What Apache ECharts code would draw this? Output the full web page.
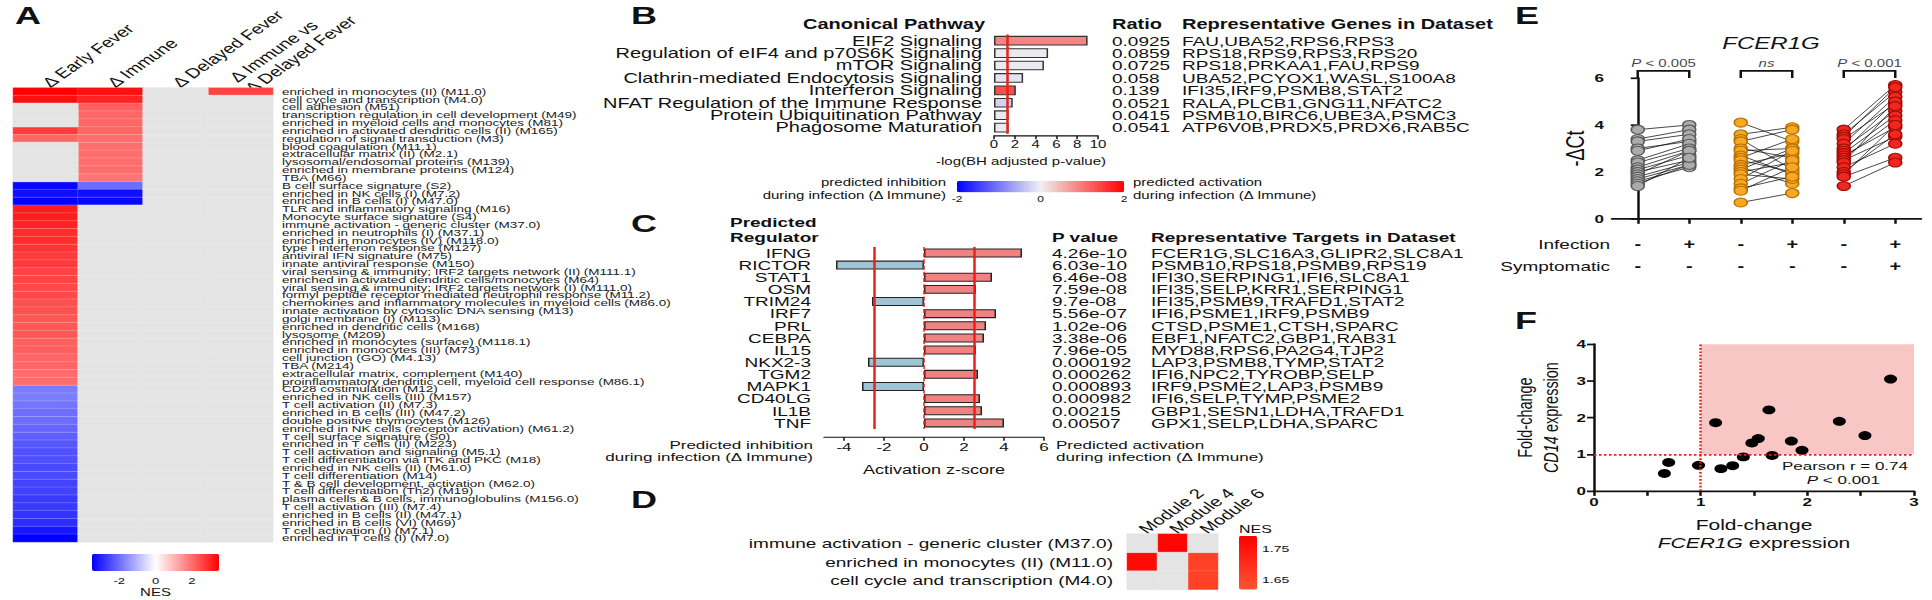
<!DOCTYPE html>
<html>
<head>
<meta charset="utf-8">
<title>Multi-panel figure</title>
<script src="https://cdn.jsdelivr.net/npm/echarts@6/dist/echarts.min.js"></script>
<style>
  html, body { margin: 0; padding: 0; background: #fff; overflow: hidden; }
  #frame { width: 1932px; height: 600px; overflow: hidden; }
  /* the source figure is squashed vertically, so draw tall and squeeze */
  #chart { width: 1932px; height: 870px; transform: scale(1, 0.68966); transform-origin: 0 0; }
</style>
</head>
<body>
<div id="frame"><div id="chart"></div></div>
<script>
const FONT = 'Liberation Sans, Arial, Helvetica, sans-serif';
const NA = null;

// ---------- A: module NES heatmap ----------
const moduleNames = [
  'enriched in monocytes (II) (M11.0)', 'cell cycle and transcription (M4.0)', 'cell adhesion (M51)',
  'transcription regulation in cell development (M49)', 'enriched in myeloid cells and monocytes (M81)',
  'enriched in activated dendritic cells (II) (M165)', 'regulation of signal transduction (M3)',
  'blood coagulation (M11.1)', 'extracellular matrix (II) (M2.1)', 'lysosomal/endosomal proteins (M139)',
  'enriched in membrane proteins (M124)', 'TBA (M66)', 'B cell surface signature (S2)',
  'enriched in NK cells (I) (M7.2)', 'enriched in B cells (I) (M47.0)', 'TLR and inflammatory signaling (M16)',
  'Monocyte surface signature (S4)', 'immune activation - generic cluster (M37.0)',
  'enriched in neutrophils (I) (M37.1)', 'enriched in monocytes (IV) (M118.0)', 'type I interferon response (M127)',
  'antiviral IFN signature (M75)', 'innate antiviral response (M150)',
  'viral sensing & immunity; IRF2 targets network (II) (M111.1)',
  'enriched in activated dendritic cells/monocytes (M64)',
  'viral sensing & immunity; IRF2 targets network (I) (M111.0)',
  'formyl peptide receptor mediated neutrophil response (M11.2)',
  'chemokines and inflammatory molecules in myeloid cells (M86.0)',
  'innate activation by cytosolic DNA sensing (M13)', 'golgi membrane (I) (M113)',
  'enriched in dendritic cells (M168)', 'lysosome (M209)', 'enriched in monocytes (surface) (M118.1)',
  'enriched in monocytes (III) (M73)', 'cell junction (GO) (M4.13)', 'TBA (M214)',
  'extracellular matrix, complement (M140)', 'proinflammatory dendritic cell, myeloid cell response (M86.1)',
  'CD28 costimulation (M12)', 'enriched in NK cells (III) (M157)', 'T cell activation (II) (M7.3)',
  'enriched in B cells (III) (M47.2)', 'double positive thymocytes (M126)',
  'enriched in NK cells (receptor activation) (M61.2)', 'T cell surface signature (S0)',
  'enriched in T cells (II) (M223)', 'T cell activation and signaling (M5.1)',
  'T cell differentiation via ITK and PKC (M18)', 'enriched in NK cells (II) (M61.0)',
  'T cell differentiation (M14)', 'T & B cell development, activation (M62.0)',
  'T cell differentiation (Th2) (M19)', 'plasma cells & B cells, immunoglobulins (M156.0)',
  'T cell activation (III) (M7.4)', 'enriched in B cells (II) (M47.1)', 'enriched in B cells (VI) (M69)',
  'T cell activation (I) (M7.1)', 'enriched in T cells (I) (M7.0)'
];
const contrasts = ['Δ Early Fever', 'Δ Immune', 'Δ Delayed Fever', 'Δ Immune vs\nΔ Delayed Fever'];

const nesEarlyFever = [
  3.5, 3.3, NA, NA, NA, 2.7, 2.1, NA, NA, NA,
  NA, NA, -3.4, -3.3, -3.5, 3.1, 3.1, 3.0, 2.9, 2.9,
  2.8, 2.7, 2.7, 2.6, 2.6, 2.5, 2.5, 2.4, 2.4, 2.3,
  2.3, 2.3, 2.2, 2.2, 2.1, 2.1, 2.0, 2.0, -1.8, -1.8,
  -1.9, -2.0, -2.0, -2.1, -2.2, -2.3, -2.4, -2.4, -2.5, -2.5,
  -2.6, -2.6, -2.7, -2.7, -2.8, -2.9, -3.2, -3.5
];
const nesImmune = [
  3.3, 3.0, 2.2, 2.1, 2.1, 2.1, 2.0, 2.0, 2.0, 2.0,
  2.0, 1.9, -2.0, -3.3, -3.4, NA, NA, NA, NA, NA,
  NA, NA, NA, NA, NA, NA, NA, NA, NA, NA,
  NA, NA, NA, NA, NA, NA, NA, NA, NA, NA,
  NA, NA, NA, NA, NA, NA, NA, NA, NA, NA,
  NA, NA, NA, NA, NA, NA, NA, NA
];
const nesDelayedFever = [
  NA, NA, NA, NA, NA, NA, NA, NA, NA, NA,
  NA, NA, NA, NA, NA, NA, NA, NA, NA, NA,
  NA, NA, NA, NA, NA, NA, NA, NA, NA, NA,
  NA, NA, NA, NA, NA, NA, NA, NA, NA, NA,
  NA, NA, NA, NA, NA, NA, NA, NA, NA, NA,
  NA, NA, NA, NA, NA, NA, NA, NA
];
const nesImmuneVsDelayed = [
  2.6, NA, NA, NA, NA, NA, NA, NA, NA, NA,
  NA, NA, NA, NA, NA, NA, NA, NA, NA, NA,
  NA, NA, NA, NA, NA, NA, NA, NA, NA, NA,
  NA, NA, NA, NA, NA, NA, NA, NA, NA, NA,
  NA, NA, NA, NA, NA, NA, NA, NA, NA, NA,
  NA, NA, NA, NA, NA, NA, NA, NA
];
const nesTicks = [-2, 0, 2];

// ---------- B: canonical pathways ----------
const pathways = [
  'EIF2 Signaling', 'Regulation of eIF4 and p70S6K Signaling', 'mTOR Signaling',
  'Clathrin-mediated Endocytosis Signaling', 'Interferon Signaling',
  'NFAT Regulation of the Immune Response', 'Protein Ubiquitination Pathway', 'Phagosome Maturation'
];
const pathwayLogP = [9.0, 5.2, 4.8, 2.8, 2.1, 1.8, 1.4, 1.4];
const pathwayZ = [0.9, -0.05, -0.05, -0.1, 1.35, -0.25, -0.05, -0.05];
const pathwayRatio = ['0.0925', '0.0859', '0.0725', '0.058', '0.139', '0.0521', '0.0415', '0.0541'];
const pathwayGenes = [
  'FAU,UBA52,RPS6,RPS3', 'RPS18,RPS9,RPS3,RPS20', 'RPS18,PRKAA1,FAU,RPS9', 'UBA52,PCYOX1,WASL,S100A8',
  'IFI35,IRF9,PSMB8,STAT2', 'RALA,PLCB1,GNG11,NFATC2', 'PSMB10,BIRC6,UBE3A,PSMC3', 'ATP6V0B,PRDX5,PRDX6,RAB5C'
];
const bhThreshold = 1.3;
const zTicks = [-2, 0, 2];

// ---------- C: upstream regulators ----------
const regulators = ['IFNG', 'RICTOR', 'STAT1', 'OSM', 'TRIM24', 'IRF7', 'PRL', 'CEBPA', 'IL15',
  'NKX2-3', 'TGM2', 'MAPK1', 'CD40LG', 'IL1B', 'TNF'];
const zScores = [4.9, -4.4, 3.4, 2.6, -2.6, 3.6, 3.1, 3.0, 2.6, -2.8, 2.7, -3.1, 2.8, 2.9, 4.0];
const regulatorP = ['4.26e-10', '6.03e-10', '6.46e-08', '7.59e-08', '9.7e-08', '5.56e-07', '1.02e-06',
  '3.38e-06', '7.96e-05', '0.000192', '0.000262', '0.000893', '0.000982', '0.00215', '0.00507'];
const regulatorTargets = [
  'FCER1G,SLC16A3,GLIPR2,SLC8A1', 'PSMB10,RPS18,PSMB9,RPS19', 'IFI30,SERPING1,IFI6,SLC8A1',
  'IFI35,SELP,KRR1,SERPING1', 'IFI35,PSMB9,TRAFD1,STAT2', 'IFI6,PSME1,IRF9,PSMB9', 'CTSD,PSME1,CTSH,SPARC',
  'EBF1,NFATC2,GBP1,RAB31', 'MYD88,RPS6,PA2G4,TJP2', 'LAP3,PSMB8,TYMP,STAT2', 'IFI6,NPC2,TYROBP,SELP',
  'IRF9,PSME2,LAP3,PSMB9', 'IFI6,SELP,TYMP,PSME2', 'GBP1,SESN1,LDHA,TRAFD1', 'GPX1,SELP,LDHA,SPARC'
];
const zThresholds = [-2.5, 2.5];
const zAxisTicks = [-4, -2, 0, 2, 4, 6];

// ---------- D: module enrichment ----------
const dModules = ['Module 2', 'Module 4', 'Module 6'];
const dRows = ['immune activation - generic cluster (M37.0)', 'enriched in monocytes (II) (M11.0)',
  'cell cycle and transcription (M4.0)'];
const nesModule2 = [NA, 1.77, NA];
const nesModule4 = [1.78, NA, NA];
const nesModule6 = [NA, 1.66, 1.66];
const dTicks = [1.75, 1.65];

// ---------- E: FCER1G paired -dCt ----------
const infectionRow = ['-', '+', '-', '+', '-', '+'];
const symptomaticRow = ['-', '-', '-', '-', '-', '+'];
const grayBefore = [3.8, 3.4, 3.3, 3.0, 2.9, 2.5, 2.4, 2.2, 2.1, 2.0, 1.9, 1.8, 1.7, 1.6, 1.5, 1.4];
const grayAfter = [4.0, 3.8, 3.6, 3.3, 3.4, 3.2, 3.0, 2.9, 2.7, 2.5, 2.9, 2.4, 2.3, 2.2, 2.3, 2.6];
const orangeBefore = [4.1, 3.6, 3.4, 3.3, 3.0, 2.9, 2.7, 2.6, 2.5, 2.3, 2.2, 2.1, 2.0, 1.9, 1.7, 1.5, 1.3, 1.2, 0.7];
const orangeAfter = [3.3, 3.9, 2.1, 3.8, 2.6, 3.0, 1.9, 3.4, 2.0, 2.8, 1.5, 3.0, 2.4, 1.7, 2.9, 2.5, 1.8, 2.2, 1.1];
const redBefore = [3.8, 3.6, 3.5, 3.4, 3.2, 3.0, 2.9, 2.8, 2.7, 2.6, 2.5, 2.4, 2.2, 2.0, 1.9, 1.8, 1.4];
const redAfter = [5.7, 5.4, 5.6, 4.9, 5.2, 4.6, 5.0, 4.4, 3.9, 4.2, 3.5, 4.8, 3.2, 3.6, 4.0, 2.6, 2.4];
const sigLabels = ['{i|P} < 0.005', '{i|ns}', '{i|P} < 0.001'];

// ---------- F: fold-change scatter ----------
const fcer1gFold = [0.66, 0.70, 0.98, 1.14, 1.19, 1.30, 1.40, 1.48, 1.54, 1.64, 1.67, 1.85, 1.95, 2.30, 2.54, 2.78];
const cd14Fold = [0.48, 0.78, 0.70, 1.86, 0.61, 0.69, 0.93, 1.31, 1.43, 2.21, 0.97, 1.36, 1.11, 1.90, 1.51, 3.05];

// ---------- build ----------
function splitCells(columns) {
  const vals = [], miss = [];
  columns.forEach((col, c) => col.forEach((v, r) => {
    if (v === NA) miss.push([c, r, 0]); else vals.push([c, r, v]);
  }));
  return { vals, miss };
}
const aCells = splitCells([nesEarlyFever, nesImmune, nesDelayedFever, nesImmuneVsDelayed]);
const dCells = splitCells([nesModule2, nesModule4, nesModule6]);

const groups = [
  { before: grayBefore, after: grayAfter, fill: '#ababab', edge: '#5a5a5a' },
  { before: orangeBefore, after: orangeAfter, fill: '#f7a823', edge: '#b86f00' },
  { before: redBefore, after: redAfter, fill: '#f0261f', edge: '#a00d08' }
];
const pairLines = [];
groups.forEach((g, k) => g.before.forEach((b, i) => pairLines.push({ coords: [[2 * k, b], [2 * k + 1, g.after[i]]] })));
const brackets = [0, 1, 2].map(k => ({ coords: [[2 * k, 6.0], [2 * k, 6.3], [2 * k + 1, 6.3], [2 * k + 1, 6.0]] }));

function label(x, y, str, extra) {
  return {
    type: 'text', x: x, y: y, silent: true,
    style: Object.assign({ text: str, fontFamily: FONT, fontSize: 19, fill: '#111', align: 'left', verticalAlign: 'middle' }, extra || {})
  };
}
const bold = { fontWeight: 'bold' };
const italicRich = size => ({ i: { fontStyle: 'italic', fontSize: size, fontFamily: FONT, fill: '#111' } });

// colour bar geometry (virtual px)
const aBar = { left: 92, top: 803, len: 127, min: -3.5, max: 3.5 };
const zBar = { left: 957, top: 262, len: 167, min: -2, max: 2 };
const dBar = { left: 1239, top: 777, len: 78, min: 1.62, max: 1.79 };

const graphics = [
  label(15, 23, 'A', { fontSize: 36, fontWeight: 'bold' }),
  label(631, 23, 'B', { fontSize: 36, fontWeight: 'bold' }),
  label(631, 324, 'C', { fontSize: 36, fontWeight: 'bold' }),
  label(631, 725, 'D', { fontSize: 36, fontWeight: 'bold' }),
  label(1515, 22, 'E', { fontSize: 36, fontWeight: 'bold' }),
  label(1515, 465, 'F', { fontSize: 36, fontWeight: 'bold' }),

  label(985, 35, 'Canonical Pathway', Object.assign({ align: 'right', fontSize: 20 }, bold)),
  label(1112, 35, 'Ratio', Object.assign({ fontSize: 20 }, bold)),
  label(1182, 35, 'Representative Genes in Dataset', Object.assign({ fontSize: 20 }, bold)),

  label(946, 265, 'predicted inhibition', { align: 'right', fontSize: 15 }),
  label(946, 283, 'during infection (Δ Immune)', { align: 'right', fontSize: 15 }),
  label(1133, 265, 'predicted activation', { fontSize: 15 }),
  label(1133, 283, 'during infection (Δ Immune)', { fontSize: 15 }),

  label(730, 322, 'Predicted', Object.assign({ fontSize: 19 }, bold)),
  label(730, 344, 'Regulator', Object.assign({ fontSize: 19 }, bold)),
  label(1052, 344, 'P value', Object.assign({ fontSize: 19 }, bold)),
  label(1151, 344, 'Representative Targets in Dataset', Object.assign({ fontSize: 19 }, bold)),
  label(813, 645, 'Predicted inhibition', { align: 'right', fontSize: 17 }),
  label(813, 663, 'during infection (Δ Immune)', { align: 'right', fontSize: 17 }),
  label(1056, 645, 'Predicted activation', { fontSize: 17 }),
  label(1056, 663, 'during infection (Δ Immune)', { fontSize: 17 }),

  label(aBar.left + aBar.len / 2, 859, 'NES', { align: 'center', fontSize: 15 }),
  label(dBar.left, 768, 'NES', { fontSize: 16 }),

  label(1771, 62, 'FCER1G', { align: 'center', fontSize: 24, fontStyle: 'italic' }),
  label(1610, 354, 'Infection', { align: 'right', fontSize: 19 }),
  label(1610, 386, 'Symptomatic', { align: 'right', fontSize: 19 }),

  label(1908, 676, 'Pearson r = 0.74', { align: 'right', fontSize: 17 }),
  label(1880, 696, '{i|P} < 0.001', { align: 'right', fontSize: 17, rich: italicRich(17) })
];
nesTicks.forEach(v => graphics.push(label(aBar.left + (v - aBar.min) / (aBar.max - aBar.min) * aBar.len, 842,
  String(v), { align: 'center', fontSize: 13 })));
zTicks.forEach(v => graphics.push(label(zBar.left + (v - zBar.min) / (zBar.max - zBar.min) * zBar.len, 289,
  String(v), { align: 'center', fontSize: 12 })));
dTicks.forEach(v => graphics.push(label(dBar.left + 23, dBar.top + (dBar.max - v) / (dBar.max - dBar.min) * dBar.len,
  v.toFixed(2), { fontSize: 14 })));

const hidden = { show: false };
const blackAxis = w => ({ show: true, lineStyle: { color: '#111', width: w } });

const option = {
  animation: false,
  textStyle: { fontFamily: FONT, color: '#111' },
  grid: [
    { left: 13, top: 122, width: 260, height: 664 },
    { left: 994, top: 50, width: 104, height: 144 },
    { left: 824, top: 358, width: 220, height: 264 },
    { left: 1127, top: 774, width: 91, height: 81 },
    { left: 1612, top: 113, width: 309, height: 204.5 },
    { left: 1594, top: 499, width: 320, height: 213 }
  ],
  xAxis: [
    { gridIndex: 0, type: 'category', data: contrasts, position: 'top', axisLine: hidden, axisTick: hidden,
      splitLine: hidden, axisLabel: { rotate: -45, interval: 0, fontSize: 20, margin: 4, color: '#111', lineHeight: 22 } },
    { gridIndex: 1, type: 'value', min: 0, max: 10, interval: 2, offset: 3, axisLine: blackAxis(1.5),
      axisTick: { show: true, length: 5, lineStyle: { color: '#111', width: 1.5 } }, splitLine: hidden,
      axisLabel: { fontSize: 15, margin: 5, color: '#111' },
      name: '-log(BH adjusted p-value)', nameLocation: 'middle', nameGap: 30,
      nameTextStyle: { fontSize: 15, color: '#111', padding: [0, 50, 0, 0] } },
    { gridIndex: 2, type: 'value', min: -5, max: 6, offset: 12, axisLine: blackAxis(1.5),
      axisTick: { show: true, customValues: zAxisTicks, length: 5, lineStyle: { color: '#111', width: 1.5 } },
      axisLabel: { customValues: zAxisTicks, fontSize: 17, margin: 6, color: '#111' }, splitLine: hidden,
      name: 'Activation z-score', nameLocation: 'middle', nameGap: 38, nameTextStyle: { fontSize: 18, color: '#111' } },
    { gridIndex: 3, type: 'category', data: dModules, position: 'top', axisLine: hidden, axisTick: hidden,
      splitLine: hidden, axisLabel: { rotate: -45, interval: 0, fontSize: 20, margin: 4, color: '#111' } },
    { gridIndex: 4, type: 'value', min: -0.5, max: 5.5, axisLine: blackAxis(2.5),
      axisTick: { show: true, customValues: [0, 1, 2, 3, 4, 5], length: 7, lineStyle: { color: '#111', width: 2.5 } },
      axisLabel: { customValues: [0, 1, 2, 3, 4, 5], formatter: v => infectionRow[v] + '\n' + symptomaticRow[v],
        fontSize: 20, fontWeight: 'bold', lineHeight: 32, margin: 20, color: '#111' }, splitLine: hidden },
    { gridIndex: 5, type: 'value', min: 0, max: 3, interval: 0.5, axisLine: blackAxis(2.5),
      axisTick: { show: true, length: 7, lineStyle: { color: '#111', width: 2.5 } }, splitLine: hidden,
      axisLabel: { formatter: v => (Number.isInteger(v) ? String(v) : ''), fontSize: 17, fontWeight: 'bold', margin: 8, color: '#111' },
      name: 'Fold-change\n{i|FCER1G} expression', nameLocation: 'middle', nameGap: 36,
      nameTextStyle: { fontSize: 21, lineHeight: 26, color: '#111', rich: italicRich(21) } }
  ],
  yAxis: [
    { gridIndex: 0, type: 'category', data: moduleNames, inverse: true, position: 'right', axisLine: hidden,
      axisTick: hidden, splitLine: hidden, axisLabel: { interval: 0, fontSize: 13.5, margin: 9, color: '#1a1a1a' } },
    { gridIndex: 1, type: 'category', data: pathways, inverse: true, axisLine: hidden, axisTick: hidden,
      axisLabel: { interval: 0, fontSize: 20, margin: 12, color: '#111' } },
    { gridIndex: 1, type: 'category', data: pathways, inverse: true, position: 'right', axisLine: hidden, axisTick: hidden,
      axisLabel: { interval: 0, fontSize: 19, margin: 14, color: '#111', formatter: (v, i) => pathwayRatio[i] } },
    { gridIndex: 1, type: 'category', data: pathways, inverse: true, position: 'right', axisLine: hidden, axisTick: hidden,
      axisLabel: { interval: 0, fontSize: 19, margin: 84, color: '#111', formatter: (v, i) => pathwayGenes[i] } },
    { gridIndex: 2, type: 'category', data: regulators, inverse: true, axisLine: hidden, axisTick: hidden,
      axisLabel: { interval: 0, fontSize: 19, margin: 13, color: '#111' } },
    { gridIndex: 2, type: 'category', data: regulators, inverse: true, position: 'right', axisLine: hidden, axisTick: hidden,
      axisLabel: { interval: 0, fontSize: 19, margin: 8, color: '#111', formatter: (v, i) => regulatorP[i] } },
    { gridIndex: 2, type: 'category', data: regulators, inverse: true, position: 'right', axisLine: hidden, axisTick: hidden,
      axisLabel: { interval: 0, fontSize: 19, margin: 107, color: '#111', formatter: (v, i) => regulatorTargets[i] } },
    { gridIndex: 3, type: 'category', data: dRows, inverse: true, axisLine: hidden, axisTick: hidden,
      axisLabel: { interval: 0, fontSize: 19, margin: 14, color: '#111' } },
    { gridIndex: 4, type: 'value', min: 0, max: 6, interval: 2, axisLine: blackAxis(2.5),
      axisTick: { show: true, length: 7, lineStyle: { color: '#111', width: 2.5 } }, splitLine: hidden,
      axisLabel: { fontSize: 17, fontWeight: 'bold', margin: 8, color: '#111' },
      name: '-ΔCt', nameLocation: 'middle', nameGap: 24, nameTextStyle: { fontSize: 26, color: '#111' } },
    { gridIndex: 5, type: 'value', min: 0, max: 4, interval: 1, axisLine: blackAxis(2.5),
      axisTick: { show: true, length: 7, lineStyle: { color: '#111', width: 2.5 } }, splitLine: hidden,
      axisLabel: { fontSize: 17, fontWeight: 'bold', margin: 8, color: '#111' },
      name: 'Fold-change\n{i|CD14} expression', nameLocation: 'middle', nameGap: 30,
      nameTextStyle: { fontSize: 21, lineHeight: 26, color: '#111', rich: italicRich(21) } }
  ],
  visualMap: [
    { type: 'continuous', seriesIndex: 0, dimension: 2, min: aBar.min, max: aBar.max, orient: 'horizontal',
      left: aBar.left, top: aBar.top, itemWidth: 25, itemHeight: aBar.len, padding: 0, calculable: false,
      hoverLink: false, inRange: { color: ['#0000ff', '#ffffff', '#ff0000'] } },
    { type: 'continuous', seriesIndex: 2, dimension: 2, min: zBar.min, max: zBar.max, orient: 'horizontal',
      left: zBar.left, top: zBar.top, itemWidth: 17, itemHeight: zBar.len, padding: 0, calculable: false,
      hoverLink: false, inRange: { color: ['#0000ff', '#f0f0f0', '#ff0000'] } },
    { type: 'continuous', seriesIndex: 4, dimension: 2, min: dBar.min, max: dBar.max, orient: 'vertical',
      left: dBar.left, top: dBar.top, itemWidth: 18, itemHeight: dBar.len, padding: 0, calculable: false,
      hoverLink: false, inRange: { color: ['#ff5533', '#ff0000'] } }
  ],
  series: [
    { type: 'heatmap', xAxisIndex: 0, yAxisIndex: 0, data: aCells.vals, silent: true,
      itemStyle: { borderColor: 'rgba(255,255,255,0.35)', borderWidth: 0.6 } },
    { type: 'heatmap', xAxisIndex: 0, yAxisIndex: 0, data: aCells.miss, silent: true,
      itemStyle: { color: '#e4e4e4', borderColor: '#ececec', borderWidth: 0.6 } },
    { type: 'bar', xAxisIndex: 1, yAxisIndex: 1, barWidth: 14, silent: true,
      data: pathways.map((p, i) => [pathwayLogP[i], p, pathwayZ[i]]),
      itemStyle: { borderColor: '#333', borderWidth: 1.5 },
      markLine: { silent: true, symbol: 'none', label: { show: false },
        lineStyle: { color: '#e8221a', width: 2.5, type: 'solid' }, data: [{ xAxis: bhThreshold }] } },
    { type: 'bar', xAxisIndex: 2, yAxisIndex: 4, barWidth: 13, silent: true, data: zScores,
      itemStyle: { color: p => (p.value >= 0 ? '#f08282' : '#9ec5d5'), borderColor: '#222', borderWidth: 1.5 },
      markLine: { silent: true, symbol: 'none', label: { show: false },
        lineStyle: { color: '#e8221a', width: 2.5, type: 'solid' },
        data: zThresholds.map(t => ({ xAxis: t })).concat([{ xAxis: 0, lineStyle: { type: 'dashed', width: 1.5 } }]) } },
    { type: 'heatmap', xAxisIndex: 3, yAxisIndex: 7, data: dCells.vals, silent: true,
      itemStyle: { borderColor: 'rgba(255,255,255,0.3)', borderWidth: 0.6 } },
    { type: 'heatmap', xAxisIndex: 3, yAxisIndex: 7, data: dCells.miss, silent: true,
      itemStyle: { color: '#e4e4e4', borderColor: '#ececec', borderWidth: 0.6 } },
    { type: 'lines', coordinateSystem: 'cartesian2d', xAxisIndex: 4, yAxisIndex: 8, data: pairLines, silent: true,
      z: 2, lineStyle: { color: '#111', width: 1, opacity: 0.9 } },
    { type: 'lines', coordinateSystem: 'cartesian2d', xAxisIndex: 4, yAxisIndex: 8, polyline: true, clip: false,
      data: brackets, silent: true, lineStyle: { color: '#111', width: 2.5, opacity: 1 } }
  ].concat(groups.map(g => ({
    type: 'scatter', xAxisIndex: 4, yAxisIndex: 8, symbolSize: 13, silent: true, z: 3,
    data: g.before.map(v => [groups.indexOf(g) * 2, v]).concat(g.after.map(v => [groups.indexOf(g) * 2 + 1, v])),
    itemStyle: { color: g.fill, borderColor: g.edge, borderWidth: 1.5, opacity: 1 }
  }))).concat([
    { type: 'scatter', xAxisIndex: 4, yAxisIndex: 8, symbolSize: 1, clip: false, silent: true,
      data: [[0.5, 6.62], [2.5, 6.62], [4.5, 6.62]], itemStyle: { color: 'transparent' },
      label: { show: true, position: 'inside', formatter: p => sigLabels[p.dataIndex], fontSize: 15,
        color: '#111', rich: italicRich(15) } },
    { type: 'scatter', xAxisIndex: 5, yAxisIndex: 9, symbolSize: 13, silent: true, z: 3,
      data: fcer1gFold.map((x, i) => [x, cd14Fold[i]]), itemStyle: { color: '#000', opacity: 1 },
      markArea: { silent: true, itemStyle: { color: '#f8c7c5' }, data: [[{ xAxis: 1, yAxis: 1 }, { xAxis: 3, yAxis: 4 }]] },
      markLine: { silent: true, symbol: 'none', label: { show: false },
        lineStyle: { color: '#e8221a', type: 'dotted', width: 2.5 }, data: [{ xAxis: 1 }, { yAxis: 1 }] } }
  ]),
  graphic: graphics
};

const chart = echarts.init(document.getElementById('chart'), null, { renderer: 'svg', width: 1932, height: 870 });
chart.setOption(option);
</script>
</body>
</html>
